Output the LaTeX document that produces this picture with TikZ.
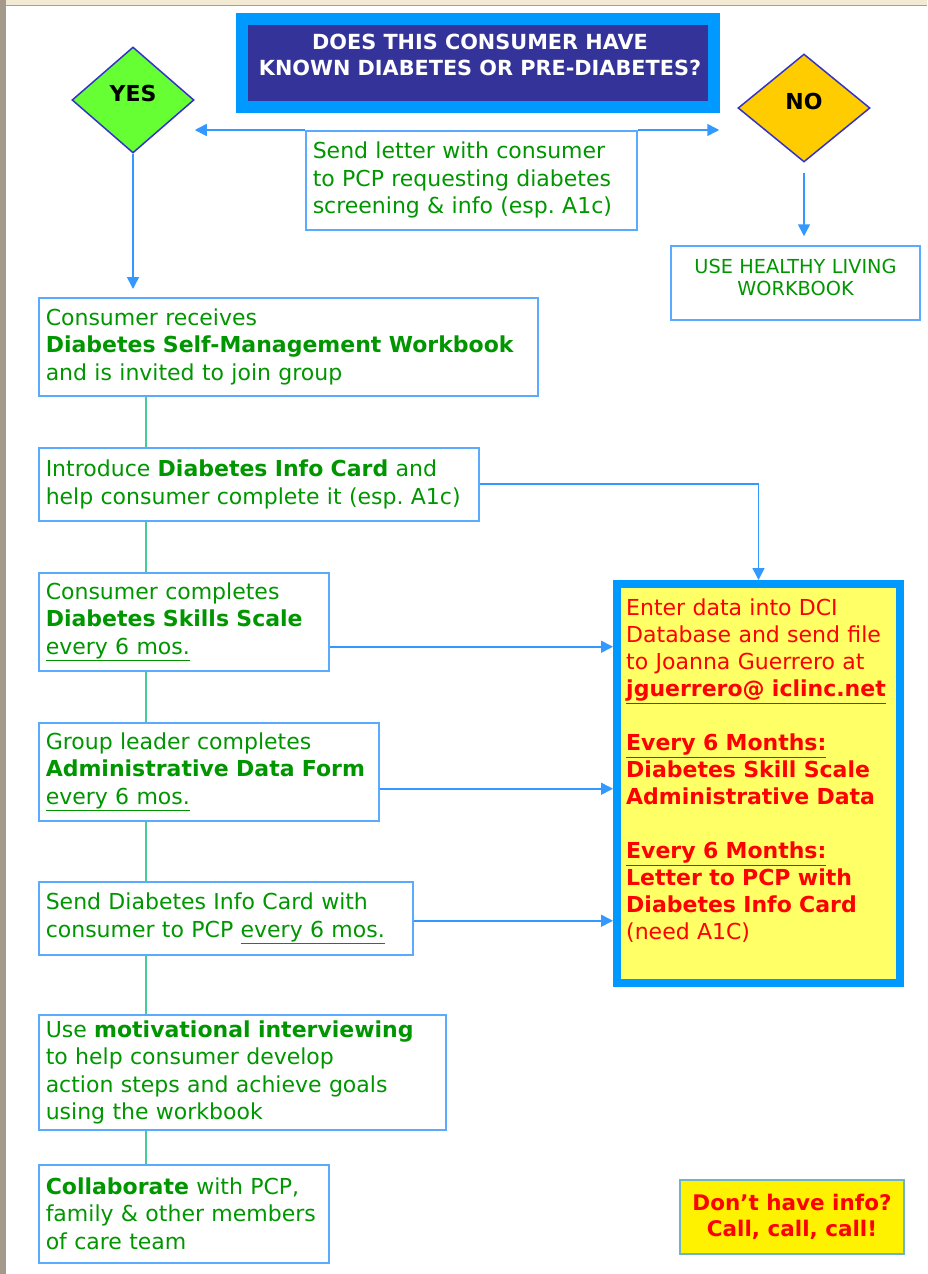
\documentclass[tikz,border=0pt]{standalone}
\usepackage{fontspec}
\setmainfont{DejaVu Sans}
\usetikzlibrary{arrows.meta,positioning,shapes.geometric,calc}
\frenchspacing

\definecolor{txtgreen}{RGB}{0,150,0}
\definecolor{boxblue}{RGB}{90,170,255}
\definecolor{arrblue}{RGB}{51,153,255}
\definecolor{linkgreen}{RGB}{70,205,150}
\definecolor{navy}{RGB}{51,51,153}
\definecolor{brightblue}{RGB}{0,153,255}
\definecolor{paleyellow}{RGB}{255,255,102}
\definecolor{diamondedge}{RGB}{51,51,204}
\definecolor{yesgreen}{RGB}{102,255,51}
\definecolor{noorange}{RGB}{255,204,0}
\definecolor{infoedge}{RGB}{110,180,200}
\definecolor{bgbrown}{RGB}{163,154,140}
\definecolor{bgbeige}{RGB}{242,234,210}
\definecolor{topline}{RGB}{150,150,240}

\tikzset{
  stepbox/.style={rectangle, draw=boxblue, line width=1.5pt, fill=white, text=txtgreen,
    align=left, anchor=north west, inner xsep=7pt, inner ysep=0pt,
    font=\fontsize{22}{27.5}\selectfont},
  choice/.style={diamond, draw=diamondedge, line width=1.5pt, inner sep=0pt, text depth=14pt,
    font=\bfseries\fontsize{22}{25}\selectfont},
  arr/.style={draw=arrblue, line width=1.6pt, -{Triangle[length=12pt,width=12pt]}},
  link/.style={draw=linkgreen, line width=1.2pt},
}

\begin{document}
\begin{tikzpicture}[x=1pt,y=-1pt]
    \useasboundingbox (0,0) rectangle (927,1274);
    \fill[bgbrown] (0,0) rectangle (6,1274);
    \fill[bgbeige] (6,0) rectangle (927,5);
    \draw[topline, line width=1.5pt] (6,5.5) -- (927,5.5);

    \node (question) [rectangle, fill=navy, draw=brightblue, line width=12pt, minimum width=472pt, minimum height=88pt] at (478,63) {};
    \node (questiontext) [text=white, align=center, font=\bfseries\fontsize{20.8}{26}\selectfont] at (480,55) {DOES THIS CONSUMER HAVE\\KNOWN DIABETES OR PRE-DIABETES?};

    \node (yes) [choice, fill=yesgreen, minimum width=122pt, minimum height=106pt] at (133,100) {YES};
    \node (no) [choice, fill=noorange, minimum width=132pt, minimum height=108pt] at (804,108) {NO};

    \node (letter) [stepbox, text width=317pt, minimum height=99pt] at (305,130) {Send letter with consumer\\to PCP requesting diabetes\\screening \& info (esp. A1c)};
    \node (healthy) [stepbox, anchor=center, align=center, text width=235pt, minimum height=74pt, text depth=34pt, font=\fontsize{19.3}{22}\selectfont] at (795.5,283) {USE HEALTHY LIVING\\WORKBOOK};

    \node (receive) [stepbox, text width=485pt, minimum height=98pt] at (38,297) {Consumer receives\\\textbf{Diabetes Self-Management Workbook}\\and is invited to join group};
    \node (intro) [stepbox, text width=426pt, minimum height=73pt] at (38,447) {Introduce \textbf{Diabetes Info Card} and\\help consumer complete it (esp. A1c)};
    \node (skills) [stepbox, text width=276pt, minimum height=98pt] at (38,572) {Consumer completes\\\textbf{Diabetes Skills Scale}\\\underline{every 6 mos.}};
    \node (admin) [stepbox, text width=326pt, minimum height=98pt] at (38,722) {Group leader completes\\\textbf{Administrative Data Form}\\\underline{every 6 mos.}};
    \node (card) [stepbox, text width=360pt, minimum height=73pt] at (38,881) {Send Diabetes Info Card with\\consumer to PCP \underline{every 6 mos.}};
    \node (interview) [stepbox, text width=393pt, minimum height=115pt] at (38,1014) {Use \textbf{motivational interviewing}\\to help consumer develop\\action steps and achieve goals\\using the workbook};
    \node (team) [stepbox, text width=276pt, minimum height=98pt] at (38,1164) {\textbf{Collaborate} with PCP,\\family \& other members\\of care team};

    \node (dci) [rectangle, draw=brightblue, fill=paleyellow, line width=8pt, minimum width=283pt, minimum height=399pt] at (758.5,783.5) {};
    \node (dcitext) [anchor=north west, inner sep=0pt, text=red, align=left, text width=272pt, font=\fontsize{22}{27}\selectfont] at (626,599) {Enter data into DCI\\Database and send file\\to Joanna Guerrero at\\\textbf{\underline{jguerrero@ iclinc.net}}\\[27pt]\textbf{\underline{Every 6 Months:}}\\\textbf{Diabetes Skill Scale}\\\textbf{Administrative Data}\\[27pt]\textbf{\underline{Every 6 Months:}}\\\textbf{Letter to PCP with}\\\textbf{Diabetes Info Card}\\(need A1C)};

    \node (callbox) [rectangle, draw=infoedge, fill=yellow, line width=1.5pt, minimum width=224pt, minimum height=74pt, text=red, align=center, font=\bfseries\fontsize{21.5}{26}\selectfont] at (792,1217) {Don’t have info?\\Call, call, call!};

    \draw[arr] (letter.north west) -- (yes.east |- letter.north west);
    \draw[arr, shorten >=18pt] (letter.north east) -- (no.west |- letter.north east);
    \draw[arr, shorten >=8pt] (yes.south) -- (yes.south |- receive.north);
    \draw[arr, shorten <=10pt, shorten >=9pt] (no.south) -- (no.south |- healthy.north);

    \foreach \a/\b in {receive/intro, intro/skills, skills/admin, admin/card, card/interview, interview/team}
        \draw[link] ($(\a.south west)+(108,0)$) -- ($(\b.north west)+(108,0)$);

    \draw[arr] (intro.east) -| (dci.north);
    \coordinate (skillsout) at ($(skills.east)+(0,25)$);
    \coordinate (adminout) at ($(admin.east)+(0,17)$);
    \coordinate (cardout) at ($(card.east)+(0,2.5)$);
    \draw[arr] (skillsout) -- (skillsout -| dci.west);
    \draw[arr] (adminout) -- (adminout -| dci.west);
    \draw[arr] (cardout) -- (cardout -| dci.west);
\end{tikzpicture}
\end{document}
